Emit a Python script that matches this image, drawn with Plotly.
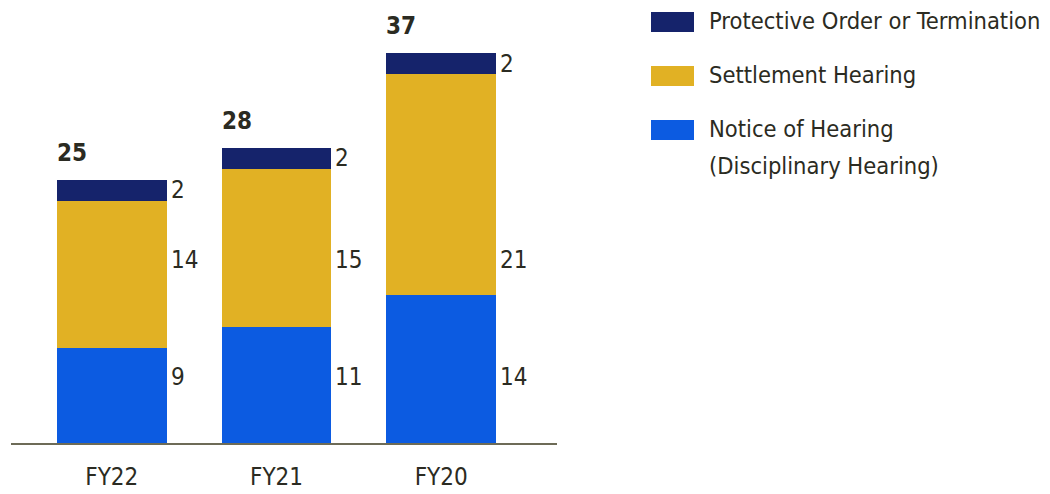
import plotly.graph_objects as go

categories = ["FY22", "FY21", "FY20"]
notice = [9, 11, 14]
settlement = [14, 15, 21]
protective = [2, 2, 2]
totals = [25, 28, 37]

series_names = ["Protective Order or Termination", "Settlement Hearing", "Notice of Hearing<br>(Disciplinary Hearing)"]
colors = {"protective": "#15236b", "settlement": "#e1b124", "notice": "#0c5be1"}
FONT = "DejaVu Sans Condensed, sans-serif"
TXT = "#2b2b22"
OFF = 8  # page body margin
W, H = 1050 - OFF, 494 - OFF
BOT = 494 - 443
PH = H - BOT
bar_w = 0.667
FS = 24

def px(x):
    return (x - OFF) / W

def py(y):
    return 1 - (y - OFF) / PH

def font(size=FS):
    return dict(size=size, color=TXT, family=FONT)

fig = go.Figure()
for vals, key in [(notice, "notice"), (settlement, "settlement"), (protective, "protective")]:
    fig.add_trace(go.Bar(x=categories, y=vals, marker=dict(color=colors[key], line=dict(width=0)),
                         width=bar_w, showlegend=False, hoverinfo="skip"))

ann = []
half = bar_w / 2
for i, c in enumerate(categories):
    ann.append(dict(x=i + half, y=6.26, xref="x", yref="y", text=str(notice[i]), showarrow=False,
                    xanchor="left", yanchor="middle", xshift=2, font=font()))
    ann.append(dict(x=i + half, y=17.36, xref="x", yref="y", text=str(settlement[i]), showarrow=False,
                    xanchor="left", yanchor="middle", xshift=2, font=font()))
    ann.append(dict(x=i + half, y=notice[i] + settlement[i] + protective[i] / 2, xref="x", yref="y",
                    text=str(protective[i]), showarrow=False, xanchor="left", yanchor="middle", xshift=2,
                    font=font()))
    ann.append(dict(x=i - half, y=totals[i], xref="x", yref="y", text="<b>%d</b>" % totals[i], showarrow=False,
                    xanchor="left", yanchor="middle", yshift=27, xshift=-2, font=font()))

leg = [("protective", series_names[0], 22), ("settlement", series_names[1], 76), ("notice", series_names[2], 130)]
shapes = []
for key, name, yc in leg:
    shapes.append(dict(type="rect", xref="paper", yref="paper", x0=px(651), x1=px(694),
                       y0=py(yc + 10), y1=py(yc - 10), fillcolor=colors[key], line=dict(width=0)))
    for k, line in enumerate(name.split("<br>")):
        ann.append(dict(x=px(707), y=py(yc - 1 + 37 * k), xref="paper", yref="paper", text=line,
                        showarrow=False, xanchor="left", yanchor="middle", align="left", font=font(23.5)))

fig.update_layout(
    width=W, height=H, margin=dict(l=0, r=0, t=0, b=BOT),
    barmode="stack", plot_bgcolor="white", paper_bgcolor="white",
    annotations=ann, shapes=shapes,
    xaxis=dict(domain=[px(11), px(557)], range=[-0.612, 2.703], showline=True, linecolor="#6d6b57",
               linewidth=2, ticks="", showgrid=False, zeroline=False, ticklabelstandoff=11,
               tickfont=font(), fixedrange=True),
    yaxis=dict(range=[0, PH / 10.54], visible=False, showgrid=False, zeroline=False, fixedrange=True),
)
fig.write_html("out.html")
